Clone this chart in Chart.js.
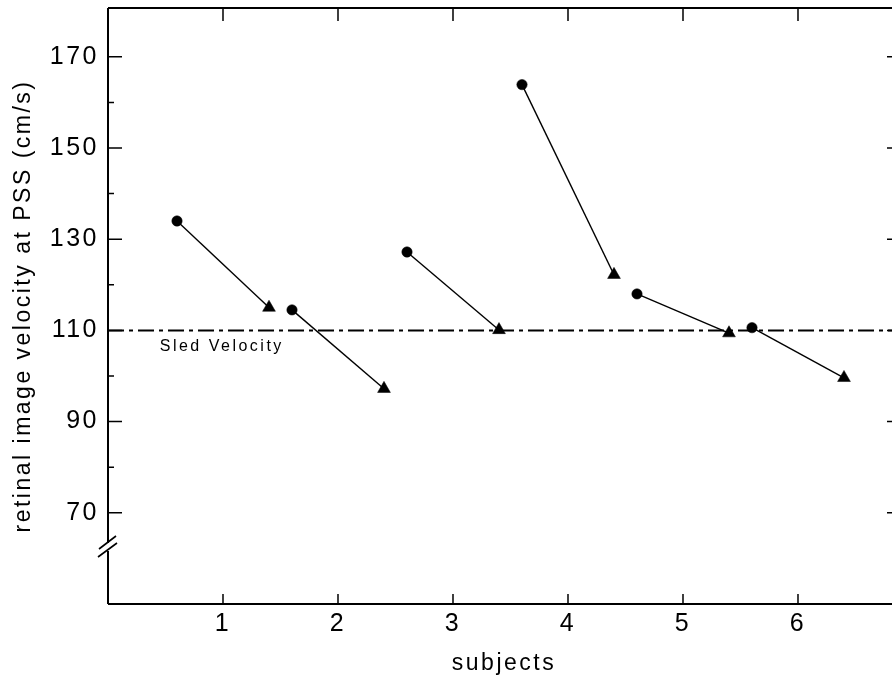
<!DOCTYPE html>
<html>
<head>
<meta charset="utf-8">
<script src="https://cdn.jsdelivr.net/npm/chart.js@4/dist/chart.umd.min.js"></script>
<style>
  html, body { margin: 0; padding: 0; background: #fff; overflow: hidden; }
  #wrap { width: 910px; height: 677px; }
</style>
</head>
<body>
<div id="wrap"><canvas id="c" width="910" height="677" style="width:910px;height:677px"></canvas></div>
<script>
// ---- data ----
const subjects   = [1, 2, 3, 4, 5, 6];
const circleX    = [0.6, 1.6, 2.6, 3.6, 4.6, 5.6];
const circleY    = [134.0, 114.5, 127.2, 163.9, 118.0, 110.6];
const triangleX  = [1.4, 2.4, 3.4, 4.4, 5.4, 6.4];
const triangleY  = [115.0, 97.2, 110.1, 122.2, 109.4, 99.6];
const sledVelocity = 110;
const sledLabel  = 'Sled Velocity';
const sledLabelX = 0.45;
const xTicks     = [1, 2, 3, 4, 5, 6];
const yTicks     = [70, 90, 110, 130, 150, 170];
const yMinorTicks = [80, 100, 120, 140, 160];
const xMin = 0, xMax = 6.887;
const yMin = 50, yMax = 180.7;
const yBreak = 62.5;
const xTitle = 'subjects';
const yTitle = 'retinal image velocity at PSS (cm/s)';

const FONT = '"Liberation Sans", Arial, Helvetica, sans-serif';
const INK = '#000';

const datasets = subjects.map((s, i) => ({
  label: 'subject ' + s,
  data: [{x: circleX[i], y: circleY[i]}, {x: triangleX[i], y: triangleY[i]}],
  showLine: true,
  borderColor: INK,
  borderWidth: 1.4,
  pointStyle: ['circle', 'triangle'],
  pointRadius: [5.2, 7.4],
  pointBackgroundColor: INK,
  pointBorderColor: INK,
  pointBorderWidth: 0.5
}));
datasets.push({
  label: sledLabel,
  data: [{x: xMin, y: sledVelocity}, {x: xMax, y: sledVelocity}],
  showLine: true,
  borderColor: INK,
  borderWidth: 2,
  borderDash: [16, 5, 4, 5],
  pointRadius: 0
});

const SPACING = '2.5px';
const spacingPlugin = {
  id: 'spacing',
  beforeLayout(chart) { chart.ctx.letterSpacing = SPACING; },
  beforeDraw(chart) { chart.ctx.letterSpacing = SPACING; }
};

const framePlugin = {
  id: 'frame',
  afterDatasetsDraw(chart) {
    const {ctx, chartArea: a, scales: {x, y}} = chart;
    ctx.save();
    ctx.strokeStyle = INK;
    ctx.lineCap = 'butt';
    ctx.lineWidth = 2;
    ctx.beginPath();
    ctx.moveTo(a.left, a.top); ctx.lineTo(a.right, a.top);
    ctx.moveTo(a.left, a.bottom); ctx.lineTo(a.right, a.bottom);
    ctx.moveTo(a.left, a.top); ctx.lineTo(a.left, a.bottom);
    ctx.moveTo(a.right, a.top); ctx.lineTo(a.right, a.bottom);
    ctx.stroke();
    ctx.lineWidth = 1.5;
    ctx.beginPath();
    yTicks.forEach(v => {
      const py = y.getPixelForValue(v);
      ctx.moveTo(a.left, py); ctx.lineTo(a.left + 14, py);
      ctx.moveTo(a.right, py); ctx.lineTo(a.right - 13, py);
    });
    yMinorTicks.forEach(v => {
      const py = y.getPixelForValue(v);
      ctx.moveTo(a.left, py); ctx.lineTo(a.left + 6, py);
    });
    xTicks.forEach(v => {
      const px = x.getPixelForValue(v);
      ctx.moveTo(px, a.top); ctx.lineTo(px, a.top + 13);
      ctx.moveTo(px, a.bottom); ctx.lineTo(px, a.bottom - 10);
    });
    ctx.stroke();
    const pb = y.getPixelForValue(yBreak);
    ctx.fillStyle = '#fff';
    ctx.fillRect(a.left - 3, pb - 4, 6, 8);
    ctx.lineWidth = 1.6;
    ctx.beginPath();
    ctx.moveTo(a.left - 9, pb + 2); ctx.lineTo(a.left + 8, pb - 11);
    ctx.moveTo(a.left - 10, pb + 10); ctx.lineTo(a.left + 9, pb - 4);
    ctx.stroke();
    ctx.letterSpacing = SPACING;
    ctx.fillStyle = INK;
    ctx.font = '16px ' + FONT;
    ctx.textAlign = 'left';
    ctx.textBaseline = 'middle';
    ctx.fillText(sledLabel, x.getPixelForValue(sledLabelX), y.getPixelForValue(sledVelocity) + 16);
    ctx.restore();
  }
};

new Chart(document.getElementById('c'), {
  type: 'scatter',
  data: { datasets },
  options: {
    responsive: false,
    animation: false,
    events: [],
    layout: { padding: { top: 8, right: 10, bottom: 0, left: 0 } },
    plugins: { legend: { display: false }, tooltip: { enabled: false } },
    scales: {
      x: {
        type: 'linear', min: xMin, max: xMax,
        afterBuildTicks: s => { s.ticks = xTicks.map(v => ({value: v})); },
        afterFit: s => { s.height = 73; s.paddingLeft = 0; s.paddingRight = 0; },
        grid: { display: false, drawTicks: false },
        border: { display: false },
        ticks: { font: { family: FONT, size: 25 }, color: INK, padding: 5, maxRotation: 0 },
        title: { display: true, text: xTitle, font: { family: FONT, size: 23 }, color: INK, padding: { top: 0, bottom: 0 } }
      },
      y: {
        type: 'linear', min: yMin, max: yMax,
        afterBuildTicks: s => { s.ticks = yTicks.map(v => ({value: v})); },
        afterFit: s => { s.width = 108; s.paddingTop = 0; s.paddingBottom = 0; },
        grid: { display: false, drawTicks: false },
        border: { display: false },
        ticks: { font: { family: FONT, size: 25 }, color: INK, padding: 9 },
        title: { display: true, text: yTitle, font: { family: FONT, size: 23 }, color: INK, padding: { top: 10, bottom: 0 } }
      }
    }
  },
  plugins: [spacingPlugin, framePlugin]
});
</script>
</body>
</html>
